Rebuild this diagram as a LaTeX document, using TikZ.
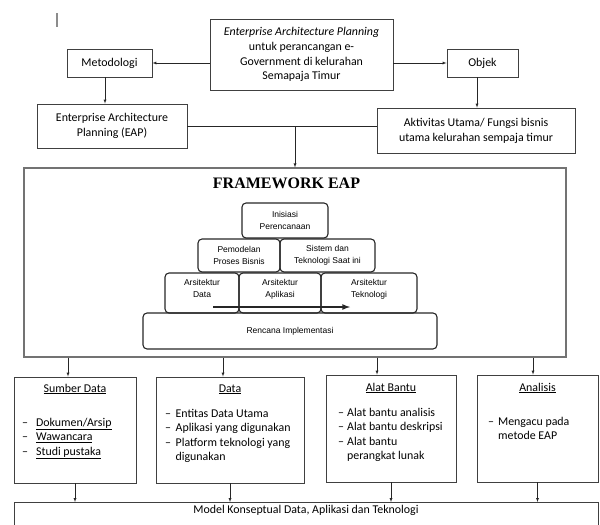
\documentclass[tikz,border=0pt]{standalone}
\usepackage{fontspec}
\setmainfont{Carlito}
\newfontfamily\titlefont{Liberation Serif}
\newfontfamily\pyrfont{Liberation Sans}

\newcommand{\boxlist}[2]{\begin{tabular}[t]{@{}l@{\hspace{#1}}l@{}}#2\end{tabular}}

\begin{document}
\begin{tikzpicture}[x=1pt,y=-1pt,
	box/.style={draw=black!75,line width=0.8pt,align=center,inner sep=0pt,font=\fontsize{11.9}{14.8}\selectfont},
	listbox/.style={draw=black!75,line width=0.8pt,inner sep=0pt},
	listtxt/.style={inner sep=0pt,anchor=base west,font=\fontsize{11.9}{14.5}\selectfont},
	headtxt/.style={inner sep=0pt,anchor=base,font=\fontsize{11.9}{14.5}\selectfont},
	pyr/.style={draw=black!85,line width=1.1pt,rounded corners=4pt,inner sep=0pt,align=center,font=\pyrfont\fontsize{8.5}{11.5}\selectfont},
	arr/.style={thin,black!85,-latex}]
	\useasboundingbox (0,0) rectangle (600,525);

	\draw[line width=1.6pt,black!45] (57,13) -- (57,27);

	\node[box,minimum width=183,minimum height=71] (eapTop) at (301.5,54.5)
		{\textit{Enterprise Architecture Planning}\\untuk perancangan e-\\Government di kelurahan\\Semapaja Timur};
	\node[box,minimum width=85,minimum height=28] (metodologi) at (109.5,63) {Metodologi};
	\node[box,minimum width=71,minimum height=28] (objek) at (482.5,63) {Objek};
	\node[box,minimum width=150,minimum height=44] (eap) at (112,126) {Enterprise Architecture\\Planning (EAP)};
	\node[box,minimum width=198,minimum height=45] (aktivitas) at (476,130.5) {Aktivitas Utama/ Fungsi bisnis\\utama kelurahan sempaja timur};

	\draw[arr] (eapTop.west |- metodologi.east) -- (metodologi.east);
	\draw[arr] (eapTop.east |- objek.west) -- (objek.west);
	\draw[arr] ([xshift=-4.5]metodologi.south) -- ([xshift=-4.5]metodologi.south |- eap.north);
	\draw[arr] ([xshift=-5.5]objek.south) -- ([xshift=-5.5]objek.south |- aktivitas.north);

	% framework
	\node[draw=black!55,line width=1.2pt,minimum width=542,minimum height=189,inner sep=0pt] (framework) at (295,262.5) {};
	\node[inner sep=0pt,font=\titlefont\bfseries\fontsize{16}{19}\selectfont] (fwTitle) at (286.5,183) {FRAMEWORK EAP};

	\coordinate (Join) at (eap.east -| framework.north);
	\draw[thin,black!85] (eap.east) -- (eap.east -| aktivitas.west);
	\draw[arr] (Join) -- (framework.north);

	\node[pyr,minimum width=86,minimum height=35] (inisiasi) at (285,220.5) {Inisiasi\\Perencanaan};
	\node[pyr,minimum width=82,minimum height=33] (pemodelan) at (239,255.5) {Pemodelan\\Proses Bisnis};
	\node[pyr,minimum width=95,minimum height=33] (sistem) at (327.5,255.5) {Sistem dan\\Teknologi Saat ini};
	\node[pyr,minimum width=74,minimum height=40,text depth=9pt] (arsData) at (202,293) {Arsitektur\\Data};
	\node[pyr,minimum width=82,minimum height=40,text depth=9pt] (arsAplikasi) at (280,293) {Arsitektur\\Aplikasi};
	\node[pyr,minimum width=96,minimum height=40,text depth=9pt] (arsTeknologi) at (369,293) {Arsitektur\\Teknologi};
	\node[pyr,minimum width=294,minimum height=36] (rencana) at (290,331) {Rencana Implementasi};

	\coordinate (ArrStart) at (213,307);
	\coordinate (ArrEnd) at (350,307);
	\draw[line width=1.6pt,black!85,-latex] (ArrStart) -- (ArrEnd);

	% kotak bawah
	\node[listbox,minimum width=122,minimum height=106] (sumber) at (75,430) {};
	\node[listbox,minimum width=148,minimum height=106] (data) at (230,430) {};
	\node[listbox,minimum width=130,minimum height=107] (alat) at (391,428.5) {};
	\node[listbox,minimum width=121,minimum height=107] (analisis) at (537.5,428.5) {};

	\node[headtxt] (sumberHead) at (75,392) {\underline{Sumber Data}};
	\node[listtxt] (sumberList) at (22,426) {\boxlist{8pt}{\textendash & \underline{Dokumen/Arsip}\\ \textendash & \underline{Wawancara}\\ \textendash & \underline{Studi pustaka}}};
	\node[headtxt] (dataHead) at (230,392) {\underline{Data}};
	\node[listtxt] (dataList) at (165,417) {\boxlist{4.5pt}{\textendash & Entitas Data Utama\\ \textendash & Aplikasi yang digunakan\\ \textendash & Platform teknologi yang\\ & digunakan}};
	\node[headtxt] (alatHead) at (391,391) {\underline{Alat Bantu}};
	\node[listtxt] (alatList) at (338,416) {\boxlist{3pt}{\textendash & Alat bantu analisis\\ \textendash & Alat bantu deskripsi\\ \textendash & Alat bantu\\ & perangkat lunak}};
	\node[headtxt] (analisisHead) at (537.5,391) {\underline{Analisis}};
	\node[listtxt] (analisisList) at (488,425) {\boxlist{4pt}{\textendash & Mengacu pada\\ & metode EAP}};

	\node[draw=black!75,line width=0.8pt,anchor=north,minimum width=584,inner xsep=0pt,inner ysep=3pt,text height=8.5pt,text depth=30pt,font=\fontsize{11.9}{14.5}\selectfont] (model) at (306,502) {Model Konseptual Data, Aplikasi dan Teknologi};

	\foreach \b/\s in {sumber/-7,data/-7,alat/-14,analisis/-4.5}
		\draw[arr] ([xshift=\s]\b.north |- framework.south) -- ([xshift=\s]\b.north);
	\foreach \b in {sumber,data,alat,analisis}
		\draw[arr] (\b.south) -- (\b.south |- model.north);
\end{tikzpicture}
\end{document}
